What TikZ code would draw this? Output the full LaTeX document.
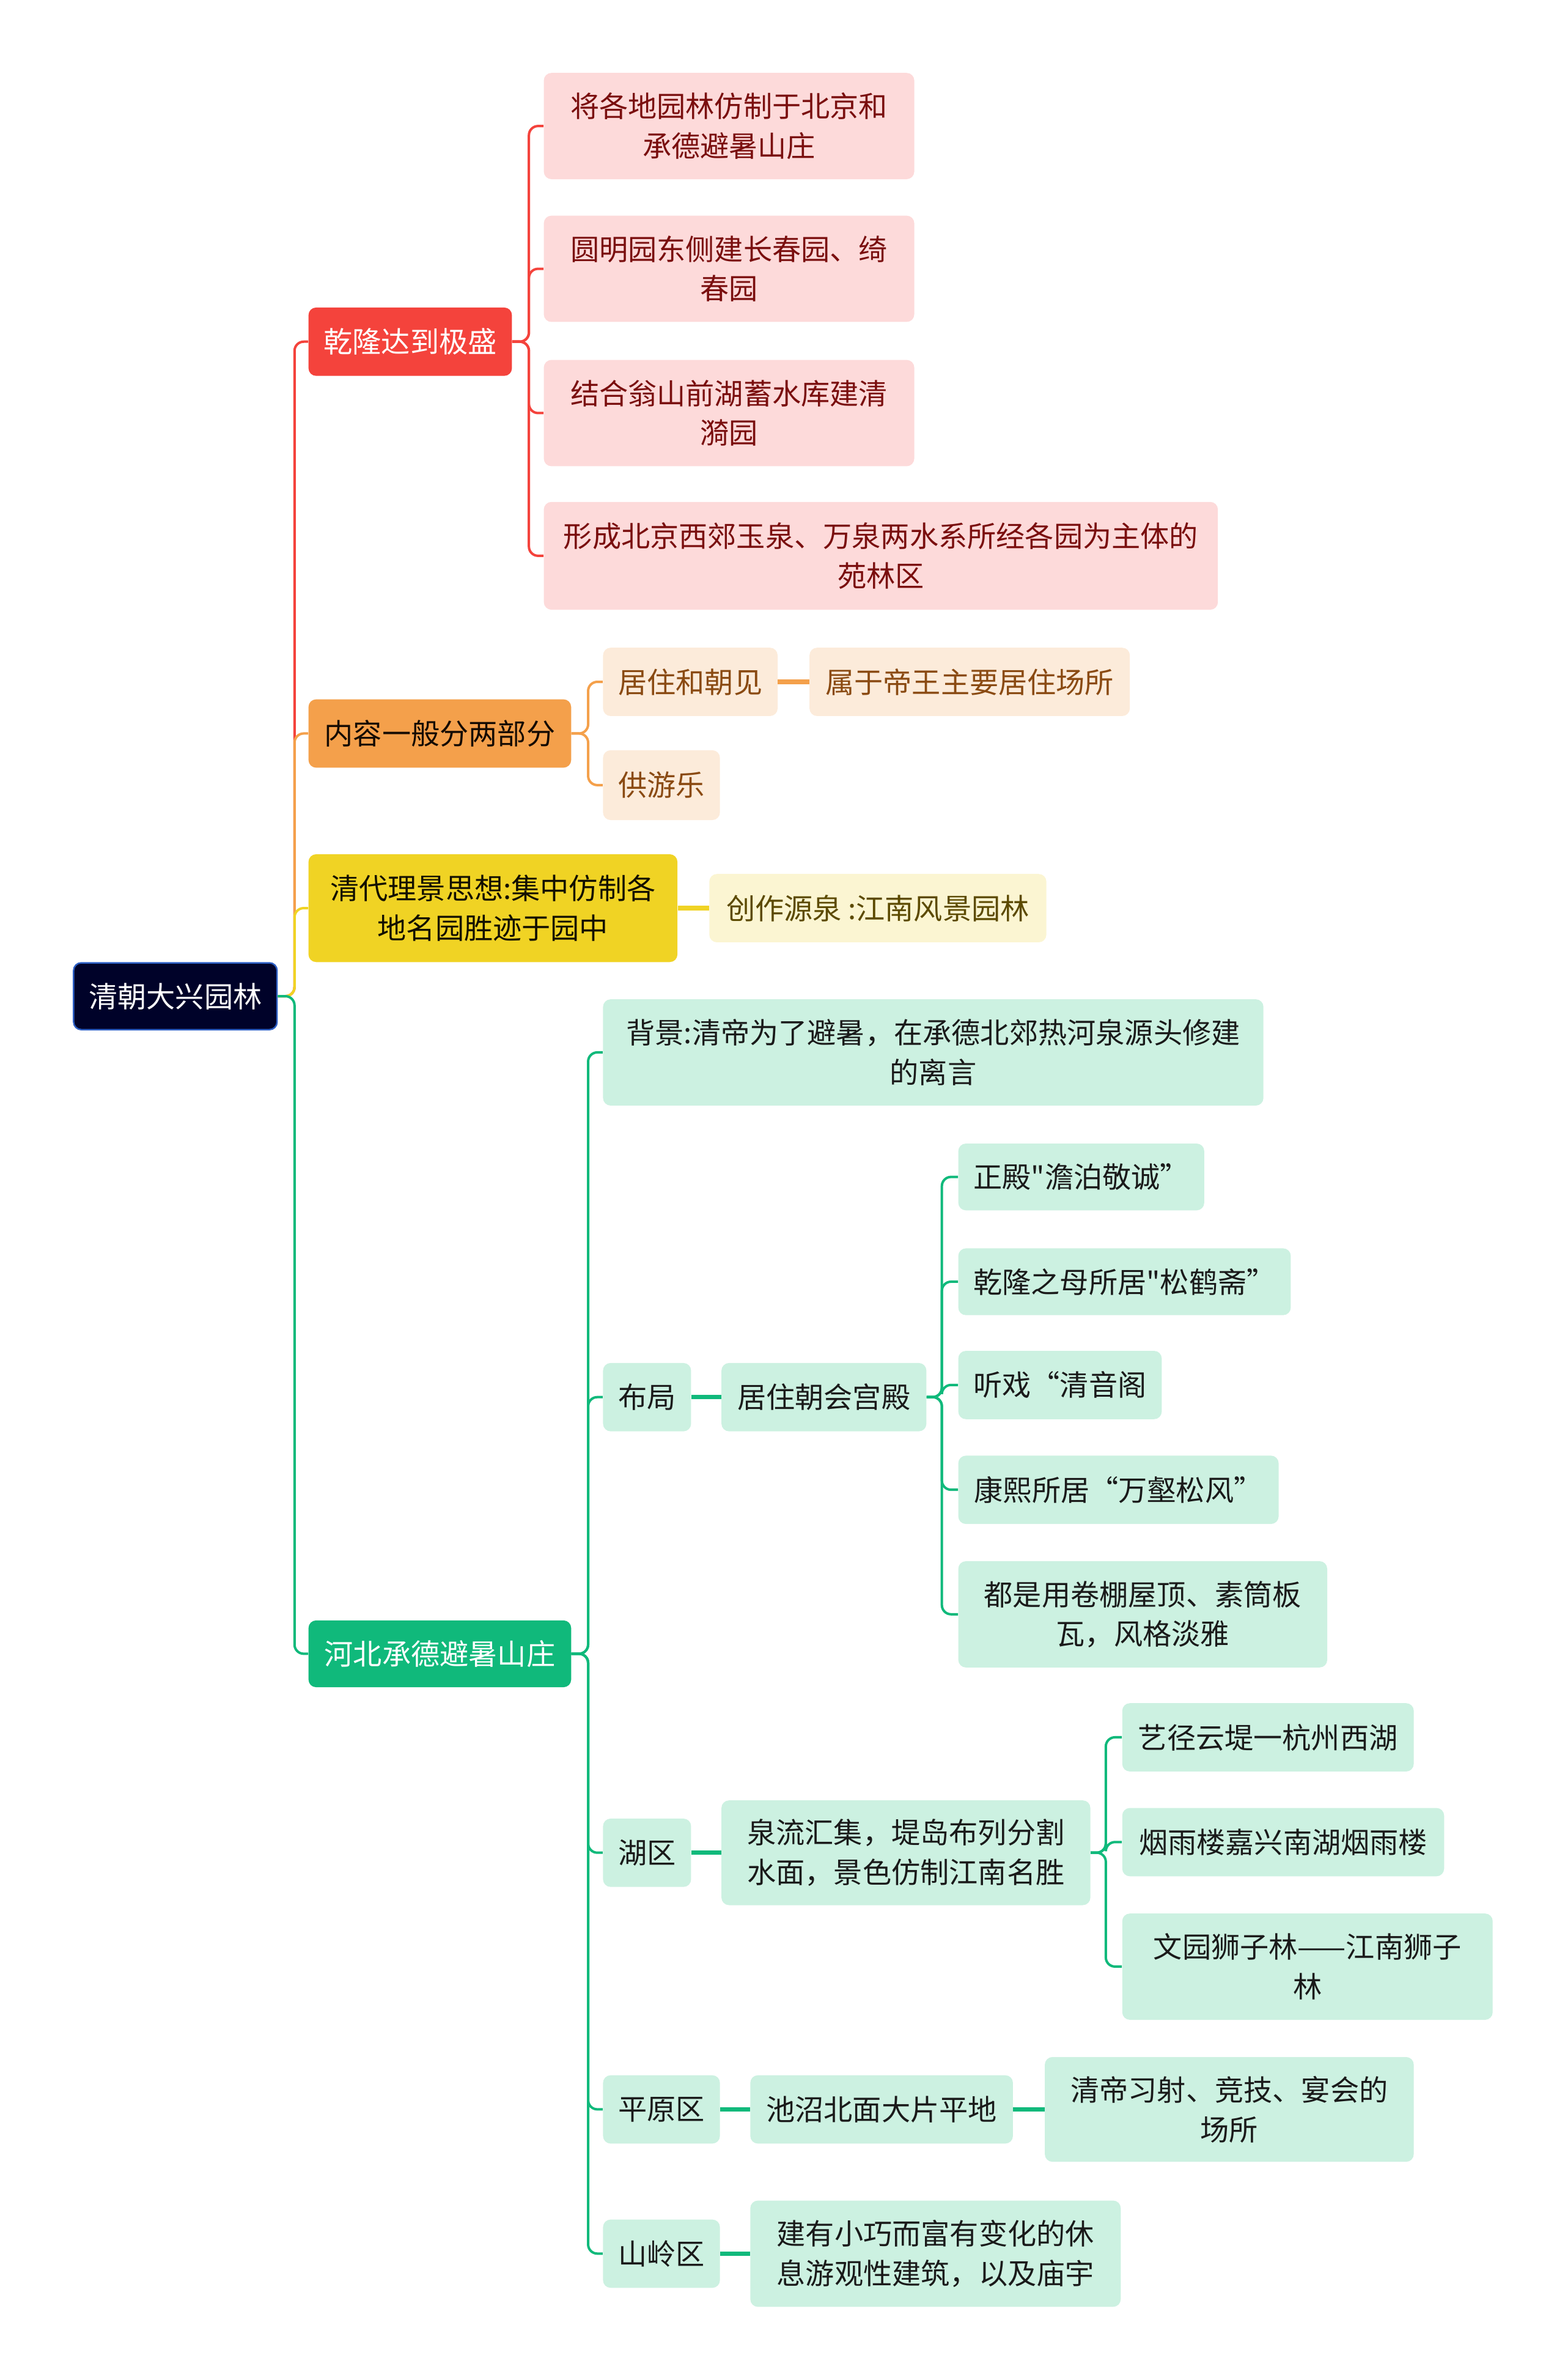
\documentclass[tikz,border=0pt]{standalone}
\usepackage{fontspec}
\setmainfont{Noto Sans CJK SC}[Ligatures=TeXOff]
\usetikzlibrary{calc}
\definecolor{rootfill}{HTML}{000229}
\definecolor{rootdraw}{HTML}{2D5FC4}
\definecolor{cred}{HTML}{F4433C}
\definecolor{credl}{HTML}{FDDADA}
\definecolor{credt}{HTML}{7A0E0E}
\definecolor{corg}{HTML}{F4A04B}
\definecolor{corgl}{HTML}{FCEBDA}
\definecolor{corgt}{HTML}{8A4A12}
\definecolor{cyel}{HTML}{F0D324}
\definecolor{cyell}{HTML}{FBF5D2}
\definecolor{cyelt}{HTML}{5C4A00}
\definecolor{cgrn}{HTML}{10B97B}
\definecolor{cgrnl}{HTML}{CCF1E1}
\definecolor{cgrnt}{HTML}{1A1A1A}
\tikzset{
  box/.style={anchor=west, rounded corners=5pt, inner sep=0pt, align=center,
    font=\fontsize{19pt}{26pt}\selectfont},
  rootbox/.style={box, fill=rootfill, draw=rootdraw, line width=1pt, text=white},
  redbox/.style={box, fill=cred, text=white},
  redsub/.style={box, fill=credl, text=credt},
  orgbox/.style={box, fill=corg, text=black!85!corgt},
  orgsub/.style={box, fill=corgl, text=corgt},
  yelbox/.style={box, fill=cyel, text=black!80!cyelt},
  yelsub/.style={box, fill=cyell, text=cyelt},
  grnbox/.style={box, fill=cgrn, text=white},
  grnsub/.style={box, fill=cgrnl, text=cgrnt},
  link/.style={line width=1.6pt, rounded corners=6pt},
  straight/.style={line width=3pt},
}
\begin{document}
\begin{tikzpicture}[x=1pt,y=-1pt]
\useasboundingbox (0,0) rectangle (1024,1557);
\begin{scope}[scale=0.9935, transform shape]
% root
\node[rootbox, minimum width=134pt, minimum height=44pt] (root) at (48,656) {清朝大兴园林};
% level 1
\node[redbox, minimum width=134pt, minimum height=45pt] (r1) at (203,225) {乾隆达到极盛};
\node[orgbox, minimum width=173pt, minimum height=45pt] (o1) at (203,483) {内容一般分两部分};
\node[yelbox, minimum width=243pt, minimum height=71pt] (y1) at (203,598) {清代理景思想:集中仿制各\\地名园胜迹于园中};
\node[grnbox, minimum width=173pt, minimum height=44pt] (g1) at (203,1089) {河北承德避暑山庄};
% red children
\node[redsub, minimum width=244pt, minimum height=70pt] (r1a) at (358,83) {将各地园林仿制于北京和\\承德避暑山庄};
\node[redsub, minimum width=244pt, minimum height=70pt] (r1b) at (358,177) {圆明园东侧建长春园、绮\\春园};
\node[redsub, minimum width=244pt, minimum height=70pt] (r1c) at (358,272) {结合翁山前湖蓄水库建清\\漪园};
\node[redsub, minimum width=444pt, minimum height=71pt] (r1d) at (358,366) {形成北京西郊玉泉、万泉两水系所经各园为主体的\\苑林区};
% orange children
\node[orgsub, minimum width=115pt, minimum height=45pt] (o1a) at (397,449) {居住和朝见};
\node[orgsub, minimum width=211pt, minimum height=45pt] (o1a1) at (533,449) {属于帝王主要居住场所};
\node[orgsub, minimum width=77pt, minimum height=46pt] (o1b) at (397,517) {供游乐};
% yellow child
\node[yelsub, minimum width=222pt, minimum height=45pt] (y1a) at (467,598) {创作源泉 :江南风景园林};
% green children
\node[grnsub, minimum width=435pt, minimum height=70pt] (g1a) at (397,693) {背景:清帝为了避暑，在承德北郊热河泉源头修建\\的离言};
\node[grnsub, minimum width=58pt, minimum height=45pt] (g1b) at (397,920) {布局};
\node[grnsub, minimum width=135pt, minimum height=45pt] (g1b1) at (475,920) {居住朝会宫殿};
\node[grnsub, minimum width=162pt, minimum height=44pt] (g1b1a) at (631,775) {正殿"澹泊敬诚”};
\node[grnsub, minimum width=219pt, minimum height=44pt] (g1b1b) at (631,844) {乾隆之母所居"松鹤斋”};
\node[grnsub, minimum width=134pt, minimum height=45pt] (g1b1c) at (631,912) {听戏“清音阁};
\node[grnsub, minimum width=211pt, minimum height=45pt] (g1b1d) at (631,981) {康熙所居“万壑松风”};
\node[grnsub, minimum width=243pt, minimum height=70pt] (g1b1e) at (631,1063) {都是用卷棚屋顶、素筒板\\瓦，风格淡雅};
\node[grnsub, minimum width=58pt, minimum height=45pt] (g1c) at (397,1220) {湖区};
\node[grnsub, minimum width=243pt, minimum height=69pt] (g1c1) at (475,1220) {泉流汇集，堤岛布列分割\\水面，景色仿制江南名胜};
\node[grnsub, minimum width=192pt, minimum height=45pt] (g1c1a) at (739,1144) {艺径云堤一杭州西湖};
\node[grnsub, minimum width=212pt, minimum height=45pt] (g1c1b) at (739,1213) {烟雨楼嘉兴南湖烟雨楼};
\node[grnsub, minimum width=244pt, minimum height=70pt] (g1c1c) at (739,1295) {文园狮子林——江南狮子\\林};
\node[grnsub, minimum width=77pt, minimum height=45pt] (g1d) at (397,1389) {平原区};
\node[grnsub, minimum width=173pt, minimum height=45pt] (g1d1) at (494,1389) {池沼北面大片平地};
\node[grnsub, minimum width=243pt, minimum height=69pt] (g1d1a) at (688,1389) {清帝习射、竞技、宴会的\\场所};
\node[grnsub, minimum width=77pt, minimum height=45pt] (g1e) at (397,1484) {山岭区};
\node[grnsub, minimum width=244pt, minimum height=70pt] (g1e1) at (494,1484) {建有小巧而富有变化的休\\息游观性建筑，以及庙宇};
% connectors level 1
\draw[link, cred] (root.east) -- ++(11,0) |- (r1.west);
\draw[link, corg] (root.east) -- ++(11,0) |- (o1.west);
\draw[link, cyel] (root.east) -- ++(11,0) |- (y1.west);
\draw[link, cgrn] (root.east) -- ++(11,0) |- (g1.west);
% red
\foreach \c in {r1a,r1b,r1c,r1d} \draw[link, cred] (r1.east) -- ++(11,0) |- (\c.west);
% orange
\foreach \c in {o1a,o1b} \draw[link, corg] (o1.east) -- ++(11,0) |- (\c.west);
\draw[straight, corg] (o1a.east) -- (o1a1.west);
% yellow
\draw[straight, cyel] (y1.east) -- (y1a.west);
% green
\foreach \c in {g1a,g1b,g1c,g1d,g1e} \draw[link, cgrn] (g1.east) -- ++(11,0) |- (\c.west);
\draw[straight, cgrn] (g1b.east) -- (g1b1.west);
\foreach \c in {g1b1a,g1b1b,g1b1c,g1b1d,g1b1e} \draw[link, cgrn] (g1b1.east) -- ++(10,0) |- (\c.west);
\draw[straight, cgrn] (g1c.east) -- (g1c1.west);
\foreach \c in {g1c1a,g1c1b,g1c1c} \draw[link, cgrn] (g1c1.east) -- ++(10,0) |- (\c.west);
\draw[straight, cgrn] (g1d.east) -- (g1d1.west);
\draw[straight, cgrn] (g1d1.east) -- (g1d1a.west);
\draw[straight, cgrn] (g1e.east) -- (g1e1.west);
\end{scope}
\end{tikzpicture}
\end{document}
